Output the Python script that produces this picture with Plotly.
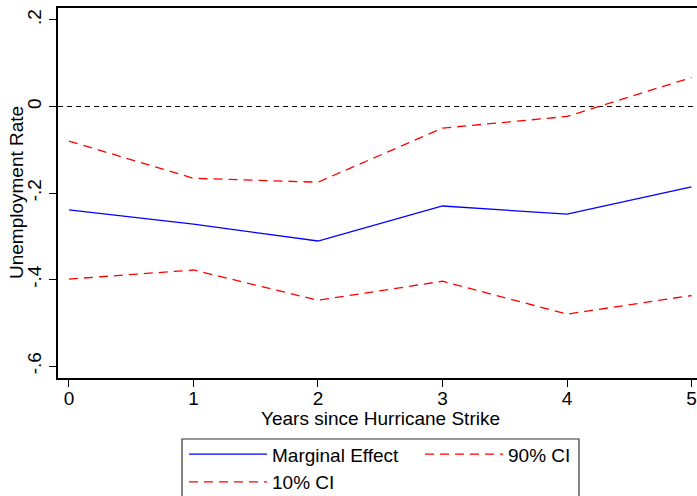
import plotly.graph_objects as go

years = [0, 1, 2, 3, 4, 5]
marginal_effect = [-0.239, -0.272, -0.311, -0.230, -0.249, -0.186]
ci_90 = [-0.080, -0.166, -0.175, -0.050, -0.023, 0.067]
ci_10 = [-0.399, -0.378, -0.448, -0.404, -0.480, -0.437]

y_tickvals = [0.2, 0, -0.2, -0.4, -0.6]
y_ticktext = [".2", "0", "-.2", "-.4", "-.6"]
x_tickvals = [0, 1, 2, 3, 4, 5]

x_title = "Years since Hurricane Strike"
y_title = "Unemployment Rate"

FONT = "Liberation Sans, Arial, sans-serif"
FS = 19

fig = go.Figure()
fig.add_trace(go.Scatter(x=years, y=marginal_effect, mode="lines", name="Marginal Effect",
                         line=dict(color="#0000ff", width=1.3), legend="legend"))
fig.add_trace(go.Scatter(x=years, y=ci_90, mode="lines", name="90% CI",
                         line=dict(color="#ff0000", width=1.3, dash="9px,6px"), legend="legend2"))
fig.add_trace(go.Scatter(x=years, y=ci_10, mode="lines", name="10% CI",
                         line=dict(color="#ff0000", width=1.3, dash="9px,6px"), legend="legend"))

fig.add_shape(type="line", xref="paper", yref="y", x0=0, x1=1, y0=0, y1=0,
              line=dict(color="black", width=1.2, dash="5px,4px"), layer="below")

# legend frame
fig.add_shape(type="rect", xref="paper", yref="paper", x0=0.1941, x1=0.8153, y0=-0.1649, y1=-0.34,
              line=dict(color="#333333", width=1.2), fillcolor="rgba(0,0,0,0)")

# axis titles
fig.add_annotation(text=x_title, xref="x", x=2.5, yref="paper", y=-0.1108,
                   xanchor="center", yanchor="middle", showarrow=False,
                   font=dict(size=FS, family=FONT, color="black"))
fig.add_annotation(text=y_title, xref="paper", x=-0.0657, yref="paper", y=0.5,
                   xanchor="center", yanchor="middle", showarrow=False, textangle=-90,
                   font=dict(size=FS, family=FONT, color="black"))

leg_common = dict(orientation="v", xanchor="left", yanchor="top", borderwidth=0,
                  bgcolor="rgba(0,0,0,0)", font=dict(size=FS, family=FONT), itemwidth=78,
                  tracegroupgap=0)

fig.update_layout(
    width=697, height=496,
    margin=dict(l=58, r=0, t=8, b=118, autoexpand=False),
    paper_bgcolor="white", plot_bgcolor="white",
    font=dict(family=FONT, color="black", size=FS),
    showlegend=True,
    legend=dict(x=0.1972, y=-0.155, **leg_common),
    legend2=dict(x=0.5665, y=-0.155, **leg_common),
    xaxis=dict(
        range=[-0.088, 5.044], tickvals=x_tickvals, ticks="outside", ticklen=7,
        tickcolor="black", tickwidth=1.2, showline=True, linecolor="black", linewidth=2,
        mirror=True, showgrid=False, zeroline=False, automargin=False,
        ticklabelstandoff=-5, tickfont=dict(size=FS),
    ),
    yaxis=dict(
        range=[-0.6277, 0.2277], tickvals=y_tickvals, ticktext=y_ticktext,
        ticks="outside", ticklen=7, tickcolor="black", tickwidth=1.2,
        showline=True, linecolor="black", linewidth=2, mirror=False,
        showgrid=False, zeroline=False, tickangle=-90, automargin=False,
        tickfont=dict(size=FS),
    ),
)

fig.write_html(
    "out.html",
    config={"displayModeBar": False},
    post_script="document.body.style.margin='0';document.body.style.overflow='hidden';",
)
